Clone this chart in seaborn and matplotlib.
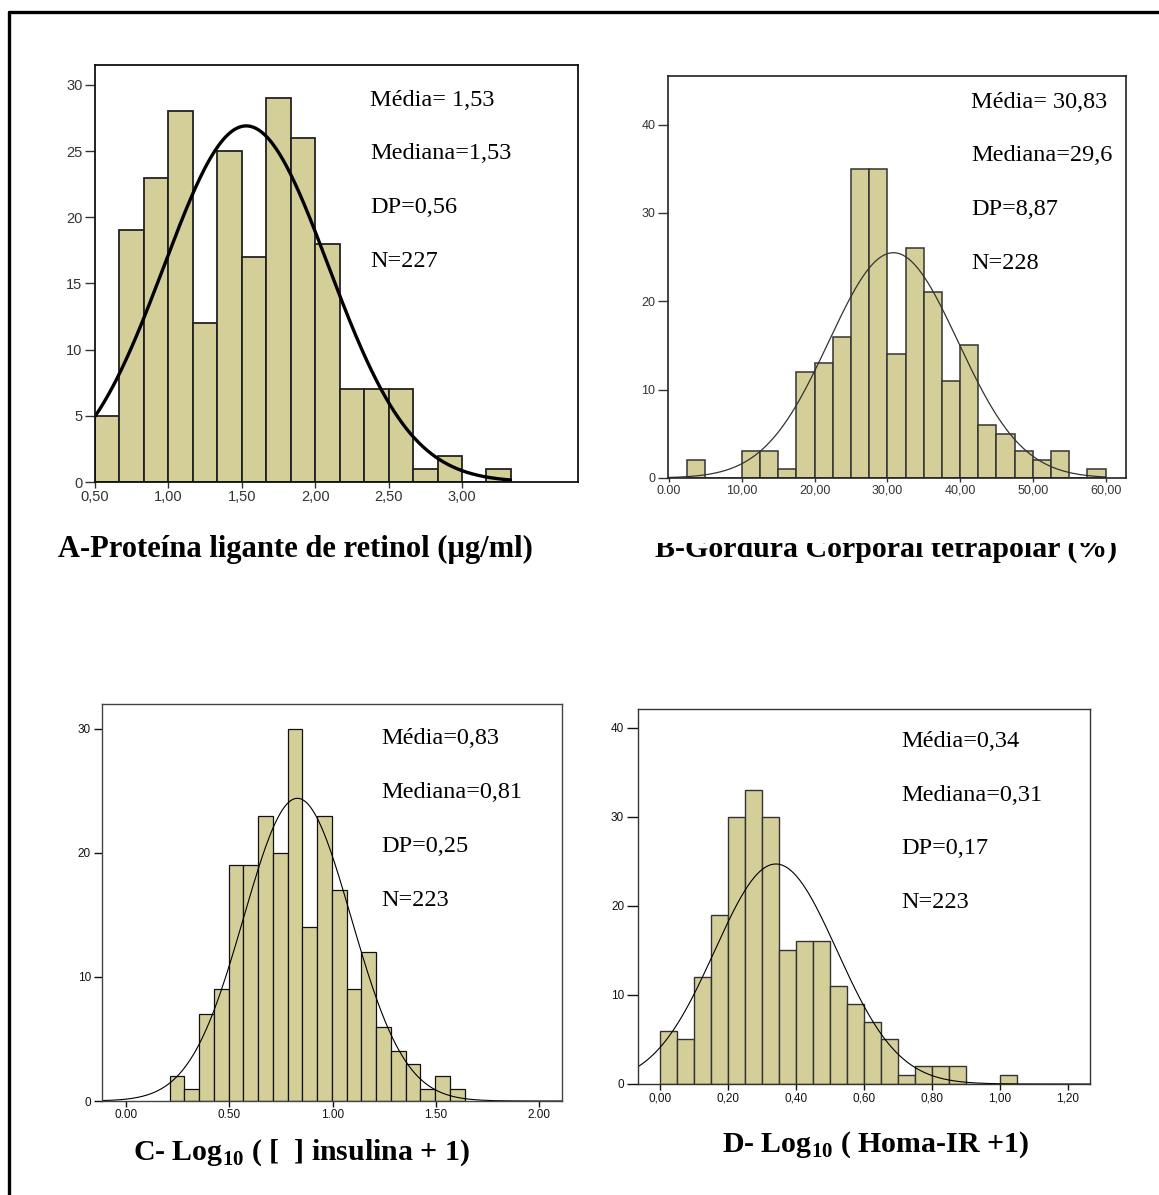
import numpy as np
import pandas as pd
import matplotlib
matplotlib.use("Agg")
import matplotlib.pyplot as plt
import seaborn as sns
from matplotlib.lines import Line2D

# ---------------- data ----------------
# Panel A - Proteína ligante de retinol
a_bin_start, a_bin_width = 0.50, 1 / 6
a_counts = [5, 19, 23, 28, 12, 25, 17, 29, 26, 18, 7, 7, 7, 1, 2, 0, 1]
a_stats = ["Média= 1,53", "Mediana=1,53", "DP=0,56", "N=227"]
a_curve = dict(mean=1.53, sd=0.56, peak=26.9, lo=0.50, hi=3.33)
a_xticks = [0.5, 1.0, 1.5, 2.0, 2.5, 3.0]
a_xlabels = ["0,50", "1,00", "1,50", "2,00", "2,50", "3,00"]
a_yticks = [0, 5, 10, 15, 20, 25, 30]

# Panel B - Gordura corporal tetrapolar
b_bin_start, b_bin_width = 2.5, 2.5
b_counts = [2, 0, 0, 3, 3, 1, 12, 13, 16, 35, 35, 14, 26, 21, 11, 15, 6, 5, 3, 2, 3, 0, 1]
b_stats = ["Média= 30,83", "Mediana=29,6", "DP=8,87", "N=228"]
b_curve = dict(mean=30.83, sd=8.87, peak=25.5, lo=0.0, hi=60.0)
b_xticks = [0, 10, 20, 30, 40, 50, 60]
b_xlabels = ["0.00", "10,00", "20,00", "30,00", "40,00", "50,00", "60,00"]
b_yticks = [0, 10, 20, 30, 40]

# Panel C - Log10([ ] insulina + 1)
c_bin_start, c_bin_width = 0.2115, 0.0714
c_counts = [2, 1, 7, 9, 19, 19, 23, 20, 30, 14, 23, 17, 9, 12, 6, 4, 3, 1, 2, 1]
c_stats = ["Média=0,83", "Mediana=0,81", "DP=0,25", "N=223"]
c_curve = dict(mean=0.83, sd=0.26, peak=24.4, lo=-0.116, hi=2.111)
c_xticks = [0.0, 0.5, 1.0, 1.5, 2.0]
c_xlabels = ["0.00", "0.50", "1.00", "1.50", "2.00"]
c_yticks = [0, 10, 20, 30]

# Panel D - Log10(Homa-IR + 1)
d_bin_start, d_bin_width = 0.0, 0.05
d_counts = [6, 5, 12, 19, 30, 33, 30, 15, 16, 16, 11, 9, 7, 5, 1, 2, 2, 2, 0, 0, 1]
d_stats = ["Média=0,34", "Mediana=0,31", "DP=0,17", "N=223"]
d_curve = dict(mean=0.34, sd=0.18, peak=24.7, lo=-0.066, hi=1.265)
d_xticks = [0.0, 0.2, 0.4, 0.6, 0.8, 1.0, 1.2]
d_xlabels = ["0,00", "0,20", "0,40", "0,60", "0,80", "1,00", "1,20"]
d_yticks = [0, 10, 20, 30, 40]

titles = {
    "A": "A-Proteína ligante de retinol (µg/ml)",
    "B": "B-Gordura Corporal tetrapolar (%)",
    "C": r"C- Log$_{\mathbf{10}}$ ( [  ] insulina + 1)",
    "D": r"D- Log$_{\mathbf{10}}$ ( Homa-IR +1)",
}

# ---------------- styling ----------------
sns.set_theme(style="white")
plt.rcParams['font.family'] = ['Liberation Sans', 'DejaVu Sans']
plt.rcParams['text.color'] = 'black'
plt.rcParams['mathtext.fontset'] = 'custom'
plt.rcParams['mathtext.rm'] = 'Liberation Serif'
plt.rcParams['mathtext.bf'] = 'Liberation Serif:bold'

W, H = 1159, 1195
fig = plt.figure(figsize=(W / 100, H / 100), dpi=100)
fig.patch.set_facecolor("white")

BAR = "#D4CF99"
SERIF = ['Liberation Serif', 'DejaVu Serif']


def rect(l, t, r, b):
    return [l / W, 1 - b / H, (r - l) / W, (b - t) / H]


def panel(box, start, width, counts, curve, xlim, ylim, xticks, xlabels, yticks,
          edge, bar_lw, spine_col, spine_lw, curve_col, curve_lw, tick_fs,
          ylen, xlen, tick_col):
    ax = fig.add_axes(rect(*box))
    n = len(counts)
    centers = [start + width * (i + 0.5) for i in range(n)]
    df = pd.DataFrame({"value": centers, "count": counts})
    sns.histplot(data=df, x="value", weights="count", binwidth=width,
                 binrange=(start, start + width * n), ax=ax,
                 color=BAR, edgecolor=edge, linewidth=bar_lw, alpha=1,
                 stat="count")
    xs = np.linspace(curve["lo"], curve["hi"], 500)
    ys = curve["peak"] * np.exp(-0.5 * ((xs - curve["mean"]) / curve["sd"]) ** 2)
    cdf = pd.DataFrame({"x": xs, "y": ys})
    sns.lineplot(data=cdf, x="x", y="y", ax=ax, color=curve_col,
                 linewidth=curve_lw, estimator=None, sort=False)
    ax.set_xlim(*xlim)
    ax.set_ylim(*ylim)
    ax.set_xticks(xticks)
    ax.set_xticklabels(xlabels)
    ax.set_yticks(yticks)
    ax.set_yticklabels([str(v) for v in yticks])
    ax.set_xlabel("")
    ax.set_ylabel("")
    ax.tick_params(axis="both", direction="out", colors=tick_col,
                   labelsize=tick_fs, width=1)
    ax.tick_params(axis="y", length=ylen, pad=2, left=True)
    ax.tick_params(axis="x", length=xlen, pad=2, bottom=True)
    for s in ax.spines.values():
        s.set_color(spine_col)
        s.set_linewidth(spine_lw)
    ax.set_facecolor("white")
    return ax


axA = panel((95, 65, 578, 482), a_bin_start, a_bin_width, a_counts, a_curve,
            (0.5, 3.79), (0, 31.5), a_xticks, a_xlabels, a_yticks,
            "#222222", 1.3, "#111111", 1.3, "black", 2.4, 10.5, 7, 4, "#333333")
axB = panel((668, 76, 1126, 478), b_bin_start, b_bin_width, b_counts, b_curve,
            (-0.15, 62.8), (0, 45.5), b_xticks, b_xlabels, b_yticks,
            "#333333", 1.1, "#222222", 1.2, "#333333", 0.9, 9, 7, 3, "#333333")
axC = panel((102, 704, 562, 1101), c_bin_start, c_bin_width, c_counts, c_curve,
            (-0.116, 2.111), (0, 32.0), c_xticks, c_xlabels, c_yticks,
            "#111111", 0.9, "#444444", 1.0, "black", 0.8, 8.5, 6, 4, "#111111")
axD = panel((638, 709, 1090, 1084), d_bin_start, d_bin_width, d_counts, d_curve,
            (-0.066, 1.265), (0, 42.1), d_xticks, d_xlabels, d_yticks,
            "#333333", 1.0, "#333333", 1.0, "black", 0.8, 8.5, 8, 4, "#111111")

# statistics annotations
stat_pos = [
    (a_stats, 370, [106, 159, 213, 267]),
    (b_stats, 971, [108, 161, 215, 269]),
    (c_stats, 381, [744, 798, 852, 906]),
    (d_stats, 901, [747, 801, 854, 908]),
]
for lines, x, ys in stat_pos:
    for txt, y in zip(lines, ys):
        fig.text(x / W, 1 - y / H, txt, family=SERIF, fontsize=17.5,
                 ha="left", va="baseline", color="black")

# panel titles
fig.text(58 / W, 1 - 557 / H, titles["A"], family=SERIF, fontsize=22,
         weight="bold", ha="left", va="baseline", color="black")
# B title is partly cut off at its top in the reference: clip it with a helper axes
clipax = fig.add_axes(rect(640, 543, 1145, 580))
clipax.set_axis_off()
tB = clipax.text(655 / W, 1 - 557 / H, titles["B"], family=SERIF,
                 fontsize=21.5, weight="bold", ha="left", va="baseline",
                 transform=fig.transFigure, color="black")
tB.set_clip_on(True)
tB.set_clip_box(clipax.bbox)
fig.text(133 / W, 1 - 1160 / H, titles["C"], family=SERIF, fontsize=21.5,
         weight="bold", ha="left", va="baseline", color="black")
fig.text(722 / W, 1 - 1152 / H, titles["D"], family=SERIF, fontsize=21.5,
         weight="bold", ha="left", va="baseline", color="black")

# outer frame of the figure (open at right and bottom as in the reference)
fig.add_artist(Line2D([9 / W, 1.0], [1 - 12 / H, 1 - 12 / H], color="black",
                      linewidth=2.4, transform=fig.transFigure))
fig.add_artist(Line2D([9 / W, 9 / W], [1 - 12 / H, 0.0], color="black",
                      linewidth=2.4, transform=fig.transFigure))

fig.savefig("out.png", dpi=100, facecolor="white")
